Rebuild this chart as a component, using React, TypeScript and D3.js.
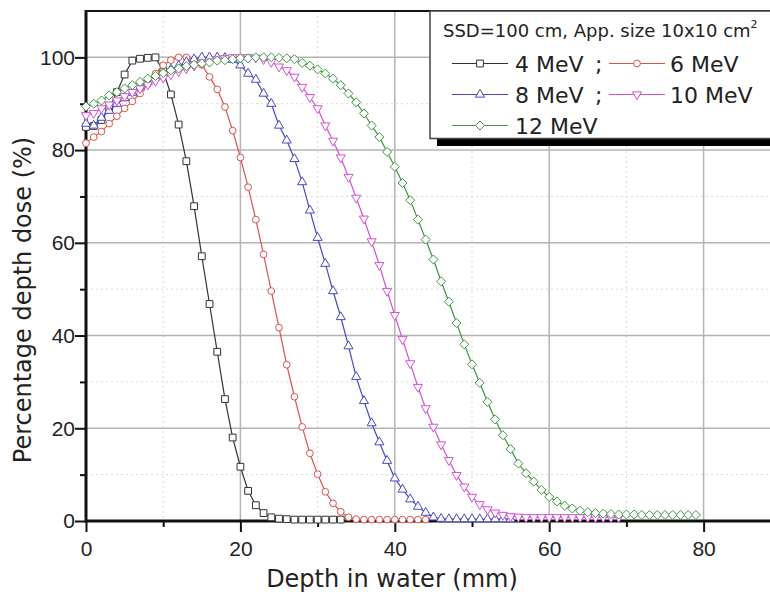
import React, { useRef, useEffect } from 'react'
import * as d3 from 'd3'

// depth sampled every 1 mm starting at 0
const mev4 = [85, 85.2, 86.5, 89, 92.5, 96.3, 99.3, 99.7, 99.9, 100,
    97, 92, 85.5, 77.6, 67.9, 57.1, 46.8, 36.5, 26.3, 18,
    11.7, 6.5, 3.4, 1.7, 0.8, 0.5, 0.4, 0.3, 0.3, 0.3,
    0.3, 0.3, 0.3, 0.3]
const mev6 = [81.5, 82.8, 84, 85.7, 87.3, 89, 90.5, 92.2, 94.2, 96.5,
    98.3, 99.4, 100, 100, 99.5, 98.4, 95.8, 93.1, 89.3, 84.2,
    78.4, 72, 65, 57.5, 49.6, 41.7, 33.7, 26.8, 20.3, 14.6,
    10.1, 6.3, 3.8, 2.0, 0.8, 0.4, 0.3, 0.3, 0.3, 0.3,
    0.3, 0.3, 0.3, 0.3, 0.3]
const mev8 = [85.7, 85.3, 87, 88.5, 90, 91.2, 92.4, 93.5, 94.7, 95.7,
    96.6, 97.4, 98.2, 99, 99.6, 100, 100, 100, 99.9, 99.5,
    98.3, 96.5, 95.2, 92.2, 90, 85.3, 82.1, 78.1, 73.1, 67,
    61.1, 55.5, 49.6, 44, 37.7, 31.1, 25.9, 21.1, 17, 13,
    9.2, 6.8, 4.7, 3.1, 1.8, 0.8, 0.5, 0.4, 0.4, 0.4,
    0.4, 0.4, 0.4, 0.4, 0.4, 0.4]
const mev10 = [87.5, 88, 89, 89.8, 90.7, 91.6, 92.5, 93.3, 94.1, 94.9,
    95.6, 96.3, 97, 97.6, 98.2, 98.7, 99.1, 99.5, 99.8, 100,
    100, 100, 99.9, 99.6, 99, 98, 97.2, 95.8, 93.6, 91.4,
    89, 85.3, 82, 78.4, 74.2, 69.7, 65.2, 60.3, 55.2, 49.6,
    44.4, 39.2, 34, 28.9, 24.3, 20.3, 16.5, 13.1, 9.9, 7.4,
    5.2, 3.6, 2.5, 1.8, 1.3, 1.0, 0.9, 0.8, 0.8, 0.8,
    0.8, 0.8, 0.8, 0.8, 0.8, 0.8, 0.8, 0.8, 0.8, 0.8]
const mev12 = [89.4, 90, 90.7, 91.8, 92.5, 93.3, 94, 94.7, 95.4, 96,
    96.6, 97.2, 97.6, 98.1, 98.4, 98.7, 98.9, 99.3, 99.4, 99.6,
    99.8, 99.8, 100, 100, 100, 99.9, 99.8, 99.6, 98.8, 98.2,
    97.4, 96.5, 95.4, 94, 92.2, 90.3, 87.9, 85.3, 82.8, 79.6,
    76.4, 72.9, 69.2, 65, 60.7, 56.4, 51.7, 47.3, 42.7, 38.1,
    33.8, 29.8, 25.7, 21.9, 18.5, 15.5, 12.4, 10.3, 8.5, 6.7,
    5.2, 4.2, 3.3, 2.7, 2.2, 1.9, 1.7, 1.6, 1.5, 1.4,
    1.4, 1.4, 1.3, 1.3, 1.3, 1.3, 1.3, 1.3, 1.3, 1.3]

const seriesNames = ['4 MeV', '6 MeV', '8 MeV', '10 MeV', '12 MeV']
const seriesValues = [mev4, mev6, mev8, mev10, mev12]
const seriesColors = ['#333333', '#d9534f', '#4848c4', '#d64fd6', '#3f963f']

const xTicks = [0, 20, 40, 60, 80]
const xMinor = [10, 30, 50, 70]
const yTicks = [0, 20, 40, 60, 80, 100]
const yMinor = [10, 30, 50, 70, 90]

const legendTitle = 'SSD=100 cm, App. size 10x10 cm'

export default function App() {
    const ref = useRef<SVGSVGElement>(null)

    useEffect(() => {
        const svg = d3.select(ref.current)
        svg.selectAll('*').remove()

        const left = 86, right = 770, top = 11, bottom = 521
        const x = d3.scaleLinear().domain([0, 88.6]).range([left, right])
        const y = d3.scaleLinear().domain([0, 110]).range([bottom, top])

        const tickFont = '"Liberation Sans", Arial, sans-serif'
        const titleFont = '"DejaVu Sans", Verdana, sans-serif'

        // grid
        const grid = svg.append('g')
        grid.selectAll('.xm').data(xMinor).join('line')
            .attr('x1', d => x(d)).attr('x2', d => x(d))
            .attr('y1', top).attr('y2', bottom)
            .attr('stroke', '#d9d9d9').attr('stroke-dasharray', '2,3')
        grid.selectAll('.ym').data(yMinor).join('line')
            .attr('x1', left).attr('x2', right)
            .attr('y1', d => y(d)).attr('y2', d => y(d))
            .attr('stroke', '#d9d9d9').attr('stroke-dasharray', '2,3')
        grid.selectAll('.xM').data(xTicks.slice(1)).join('line')
            .attr('x1', d => x(d)).attr('x2', d => x(d))
            .attr('y1', top).attr('y2', bottom)
            .attr('stroke', '#b4b4b4').attr('stroke-width', 1.5)
        grid.selectAll('.yM').data(yTicks.slice(1)).join('line')
            .attr('x1', left).attr('x2', right)
            .attr('y1', d => y(d)).attr('y2', d => y(d))
            .attr('stroke', '#b4b4b4').attr('stroke-width', 1.5)

        // axes
        const xAxis = svg.append('g')
            .attr('transform', `translate(0,${bottom})`)
            .call(d3.axisBottom(x).tickValues(xTicks).tickSize(11).tickSizeOuter(0).tickPadding(9))
        const xAxisMinor = svg.append('g')
            .attr('transform', `translate(0,${bottom})`)
            .call(d3.axisBottom(x).tickValues(xMinor).tickSize(6).tickSizeOuter(0).tickFormat(() => ''))
        const yAxis = svg.append('g')
            .attr('transform', `translate(${left},0)`)
            .call(d3.axisLeft(y).tickValues(yTicks).tickSize(11).tickSizeOuter(0).tickPadding(0))
        const yAxisMinor = svg.append('g')
            .attr('transform', `translate(${left},0)`)
            .call(d3.axisLeft(y).tickValues(yMinor).tickSize(6).tickSizeOuter(0).tickFormat(() => ''))
        for (const a of [xAxis, xAxisMinor, yAxis, yAxisMinor]) {
            a.select('.domain').remove()
            a.selectAll('line').attr('stroke', '#111').attr('stroke-width', 2)
            a.selectAll('text').attr('font-family', tickFont).attr('font-size', 21).attr('fill', '#222')
        }

        svg.append('line').attr('x1', left).attr('x2', right).attr('y1', top).attr('y2', top)
            .attr('stroke', '#111').attr('stroke-width', 2)
        svg.append('line').attr('x1', left).attr('x2', left).attr('y1', top - 1).attr('y2', bottom + 1.5)
            .attr('stroke', '#111').attr('stroke-width', 3)
        svg.append('line').attr('x1', left).attr('x2', right).attr('y1', bottom).attr('y2', bottom)
            .attr('stroke', '#111').attr('stroke-width', 3)

        // axis titles
        svg.append('text')
            .attr('x', 392).attr('y', 587)
            .attr('text-anchor', 'middle')
            .attr('font-family', titleFont).attr('font-size', 24).attr('fill', '#222')
            .text('Depth in water (mm)')
        svg.append('text')
            .attr('transform', 'translate(31,300) rotate(-90)')
            .attr('text-anchor', 'middle')
            .attr('font-family', titleFont).attr('font-size', 24).attr('fill', '#222')
            .text('Percentage depth dose (%)')

        // series
        const symbols = [
            { type: d3.symbolSquare, size: 46, rot: 0 },
            { type: d3.symbolCircle, size: 36, rot: 0 },
            { type: d3.symbolTriangle, size: 36, rot: 0 },
            { type: d3.symbolTriangle, size: 36, rot: 180 },
            { type: d3.symbolDiamond2, size: 52, rot: 0 },
        ]
        const line = d3.line<number>().x((d, i) => x(i)).y(d => y(d))

        seriesValues.forEach((vals, s) => {
            const g = svg.append('g')
            g.append('path')
                .datum(vals)
                .attr('d', line)
                .attr('fill', 'none')
                .attr('stroke', seriesColors[s])
                .attr('stroke-width', 1.2)
            const sym = d3.symbol().type(symbols[s].type).size(symbols[s].size)
            g.selectAll('path.m')
                .data(vals)
                .join('path')
                .attr('class', 'm')
                .attr('d', sym)
                .attr('transform', (d, i) => `translate(${x(i)},${y(d)}) rotate(${symbols[s].rot})`)
                .attr('fill', '#fff')
                .attr('stroke', seriesColors[s])
                .attr('stroke-width', 1)
        })

        // legend
        const lg = svg.append('g')
        lg.append('rect').attr('x', 437).attr('y', 130).attr('width', 340).attr('height', 16).attr('fill', '#000')
        lg.append('rect').attr('x', 430).attr('y', 11).attr('width', 345).attr('height', 127.5)
            .attr('fill', '#fff').attr('stroke', '#444').attr('stroke-width', 1.5)
        const title = lg.append('text')
            .attr('x', 443).attr('y', 37)
            .attr('font-family', titleFont).attr('font-size', 18).attr('fill', '#222')
        title.append('tspan').text(legendTitle)
        title.append('tspan').attr('font-size', 11).attr('dy', -9).text('2')

        seriesNames.forEach((name, i) => {
            const row = Math.floor(i / 2)
            const col = i % 2
            const ly = 63.5 + row * 31
            const x0 = 452 + col * 157
            const x1 = x0 + 56
            lg.append('line').attr('x1', x0).attr('x2', x1).attr('y1', ly).attr('y2', ly)
                .attr('stroke', seriesColors[i]).attr('stroke-width', 1.2)
            lg.append('path')
                .attr('d', d3.symbol().type(symbols[i].type).size(symbols[i].size)())
                .attr('transform', `translate(${(x0 + x1) / 2},${ly}) rotate(${symbols[i].rot})`)
                .attr('fill', '#fff').attr('stroke', seriesColors[i])
            lg.append('text')
                .attr('x', 515 + col * 155).attr('y', ly + 8.5)
                .attr('font-family', titleFont).attr('font-size', 22).attr('fill', '#222')
                .text(name)
            if (col === 0 && i + 1 < seriesNames.length) {
                lg.append('text')
                    .attr('x', 595).attr('y', ly + 8.5)
                    .attr('font-family', titleFont).attr('font-size', 22).attr('fill', '#222')
                    .text(';')
            }
        })
    }, [])

    return <svg ref={ref} width={770} height={592}
        style={{ position: 'absolute', left: 0, top: 0, background: '#fff' }} />
}
